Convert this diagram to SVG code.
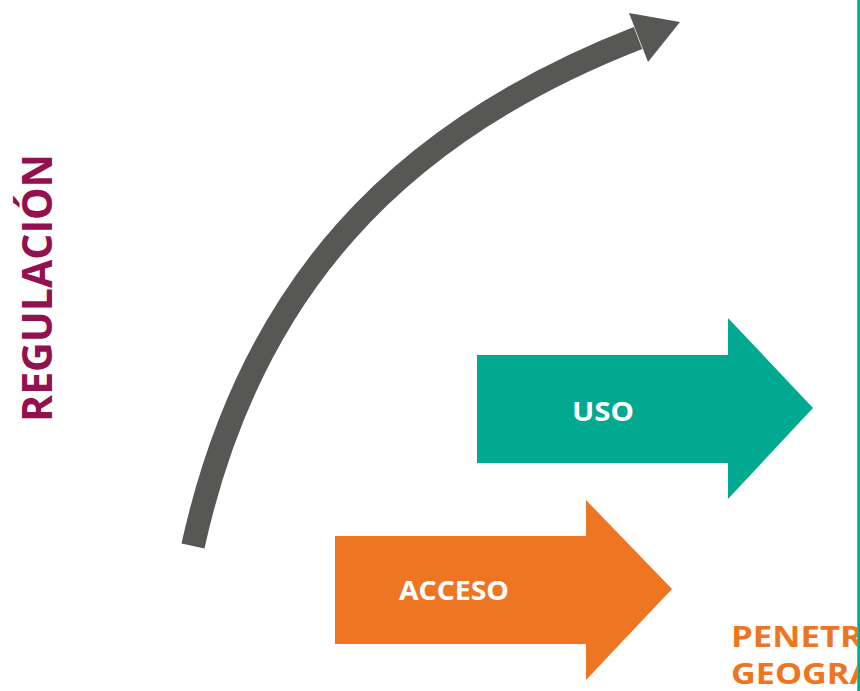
<svg xmlns="http://www.w3.org/2000/svg" width="860" height="691" viewBox="0 0 860 691">
<style>
.lbl{font-family:"Open Sans","Liberation Sans",sans-serif;font-weight:700;fill:#ffffff;font-size:27px;text-anchor:middle}
.axis{font-family:"Open Sans","Liberation Sans",sans-serif;font-weight:700}
.pen{font-size:29px;fill:#EE7623}
</style>
<defs>
<clipPath id="clipR"><rect x="0" y="0" width="857.3" height="691"/></clipPath>
</defs>
<rect x="0" y="0" width="860" height="691" fill="#ffffff"/>
<g id="connectors">
<path d="M193,546 C249,292 394,133 638,38" fill="none" stroke="#575756" stroke-width="23.5"/>
<polygon points="629,13 680,22 648,62" fill="#575756"/>
</g>
<g id="uso">
<polygon points="477,355 728,355 728,318 813,408 728,499 728,463 477,463" fill="#00A98F"/>
<text class="lbl" x="603" y="421" textLength="62" lengthAdjust="spacingAndGlyphs">USO</text>
</g>
<g id="acceso">
<polygon points="335,536 586,536 586,500 672,589 586,680 586,644 335,644" fill="#EE7623"/>
<text class="lbl" x="454" y="599.5" textLength="110" lengthAdjust="spacingAndGlyphs">ACCESO</text>
</g>
<g id="regulacion">
<text class="axis" x="52" y="288" transform="rotate(-90 52 288)" font-size="41" fill="#93114F" text-anchor="middle">REGULACIÓN</text>
</g>
<g id="penetracion" clip-path="url(#clipR)">
<text class="axis pen" x="731" y="647.3" textLength="132" lengthAdjust="spacingAndGlyphs">PENETR</text>
<text class="axis pen" x="731" y="684.3" textLength="142" lengthAdjust="spacingAndGlyphs">GEOGRA</text>
</g>
<rect x="857.3" y="0" width="2.7" height="691" fill="#00A98F"/>
</svg>
